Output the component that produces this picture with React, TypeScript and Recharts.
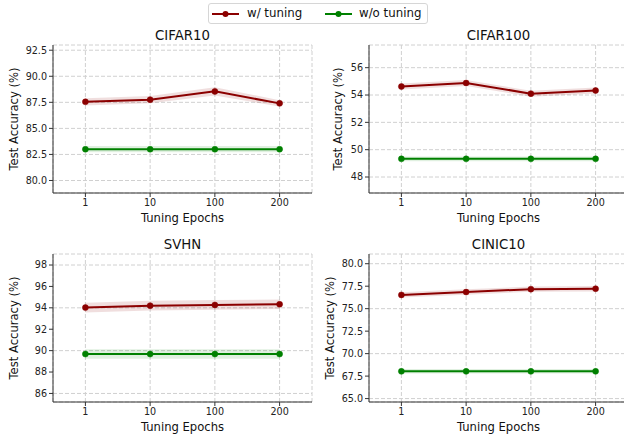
import React from 'react';
import { ComposedChart, XAxis, YAxis, CartesianGrid, Line, Area } from 'recharts';

const epochs = ['1', '10', '100', '200'];

const cifar10With = [87.55, 87.75, 88.55, 87.4];
const cifar10Without = [83.0, 83.0, 83.0, 83.0];
const cifar10WithStd = [0.35, 0.35, 0.4, 0.3];
const cifar10WithoutStd = [0.3, 0.3, 0.3, 0.3];

const cifar100With = [54.62, 54.88, 54.1, 54.33];
const cifar100Without = [49.33, 49.33, 49.33, 49.33];
const cifar100WithStd = [0.22, 0.22, 0.22, 0.22];
const cifar100WithoutStd = [0.18, 0.18, 0.18, 0.18];

const svhnWith = [94.02, 94.2, 94.27, 94.33];
const svhnWithout = [89.68, 89.68, 89.68, 89.68];
const svhnWithStd = [0.45, 0.45, 0.45, 0.45];
const svhnWithoutStd = [0.45, 0.45, 0.45, 0.45];

const cinic10With = [76.53, 76.85, 77.17, 77.22];
const cinic10Without = [68.03, 68.03, 68.03, 68.03];
const cinic10WithStd = [0.3, 0.3, 0.3, 0.3];
const cinic10WithoutStd = [0.25, 0.25, 0.25, 0.25];

const cifar10Ticks = [80.0, 82.5, 85.0, 87.5, 90.0, 92.5];
const cifar100Ticks = [48, 50, 52, 54, 56];
const svhnTicks = [86, 88, 90, 92, 94, 96, 98];
const cinic10Ticks = [65.0, 67.5, 70.0, 72.5, 75.0, 77.5, 80.0];

const RED = '#8b0000';
const GREEN = '#008000';
const SPINE = '#333';
const FONT = '"DejaVu Sans", sans-serif';

const W = 322;
const H = 213;

interface IPanelProps {
  title: string;
  left: number;
  top: number;
  withV: number[];
  withoutV: number[];
  withStd: number[];
  withoutStd: number[];
  domain: [number, number];
  ticks: number[];
  digits: number;
  yLabelX: number;
}

const Panel: React.FC<IPanelProps> = (props) => {
  const { title, left, top, withV, withoutV, withStd, withoutStd, domain, ticks, digits, yLabelX } = props;
  const data = epochs.map((e, i) => ({
    epoch: e,
    w: withV[i],
    wo: withoutV[i],
    wBand: [withV[i] - withStd[i], withV[i] + withStd[i]],
    woBand: [withoutV[i] - withoutStd[i], withoutV[i] + withoutStd[i]],
  }));
  const tickStyle = { fontSize: 9.6, fill: '#222', fontFamily: FONT };

  return (
    <div style={{ position: 'absolute', left, top, width: W, height: H }}>
      <div
        style={{
          position: 'absolute',
          left: 53,
          width: 259,
          top: 27,
          lineHeight: '18px',
          fontSize: 13.3,
          fontWeight: 400,
          textAlign: 'center',
          color: '#111',
        }}
      >
        {title}
      </div>
      <ComposedChart width={W} height={H} data={data} margin={{ top: 45, right: 10, bottom: 0, left: 0 }}>
        <CartesianGrid stroke="#d0d0d0" strokeDasharray="4 2" />
        <XAxis
          dataKey="epoch"
          height={20}
          padding={{ left: 32.4, right: 32.4 }}
          tickSize={4}
          tickMargin={2}
          tick={tickStyle}
          stroke={SPINE}
          axisLine={{ stroke: SPINE }}
          tickLine={{ stroke: SPINE }}
        />
        <XAxis
          xAxisId="top"
          orientation="top"
          dataKey="epoch"
          height={0}
          padding={{ left: 32.4, right: 32.4 }}
          tick={false}
          tickLine={false}
          axisLine={{ stroke: SPINE }}
        />
        <YAxis
          type="number"
          width={53}
          domain={domain}
          ticks={ticks}
          allowDataOverflow
          tickSize={4}
          tickMargin={2}
          tick={tickStyle}
          tickFormatter={(v: number) => v.toFixed(digits)}
          axisLine={{ stroke: SPINE }}
          tickLine={{ stroke: SPINE }}
        />
        <YAxis
          yAxisId="right"
          orientation="right"
          type="number"
          width={0}
          domain={domain}
          tick={false}
          tickLine={false}
          axisLine={{ stroke: SPINE }}
        />
        <Area
          type="linear"
          dataKey="wBand"
          stroke="none"
          fill={RED}
          fillOpacity={0.13}
          dot={false}
          activeDot={false}
          isAnimationActive={false}
        />
        <Line
          type="linear"
          dataKey="w"
          stroke={RED}
          strokeWidth={2}
          dot={{ r: 3, fill: RED, stroke: RED, strokeWidth: 0.5 }}
          activeDot={false}
          isAnimationActive={false}
        />
        <Area
          type="linear"
          dataKey="woBand"
          stroke="none"
          fill={GREEN}
          fillOpacity={0.12}
          dot={false}
          activeDot={false}
          isAnimationActive={false}
        />
        <Line
          type="linear"
          dataKey="wo"
          stroke={GREEN}
          strokeWidth={2}
          dot={{ r: 3, fill: GREEN, stroke: GREEN, strokeWidth: 0.5 }}
          activeDot={false}
          isAnimationActive={false}
        />
      </ComposedChart>
      <div
        style={{
          position: 'absolute',
          left: 53,
          width: 259,
          top: 210,
          lineHeight: '17px',
          fontSize: 11.6,
          textAlign: 'center',
          color: '#111',
        }}
      >
        Tuning Epochs
      </div>
      <div
        style={{
          position: 'absolute',
          left: yLabelX,
          top: 119,
          transform: 'translate(-50%, -50%) rotate(-90deg)',
          whiteSpace: 'nowrap',
          fontSize: 11.6,
          lineHeight: '14px',
          color: '#111',
        }}
      >
        Test Accuracy (%)
      </div>
    </div>
  );
};

const LegendKey: React.FC<{ color: string }> = ({ color }) => (
  <svg width={27} height={8} style={{ display: 'block' }}>
    <line x1={0} y1={4} x2={27} y2={4} stroke={color} strokeWidth={2} />
    <circle cx={13.5} cy={4} r={3} fill={color} />
  </svg>
);

export default function App() {
  return (
    <div
      style={{
        position: 'absolute',
        left: 0,
        top: 0,
        width: 624,
        height: 438,
        overflow: 'hidden',
        background: '#fff',
        fontFamily: FONT,
      }}
    >
      <div
        style={{
          position: 'absolute',
          left: 208,
          top: 3,
          width: 220,
          height: 21,
          boxSizing: 'border-box',
          border: '1px solid #d6d6d6',
          borderRadius: 3,
          fontSize: 11.8,
          color: '#111',
        }}
      >
        <div style={{ position: 'absolute', left: 3, top: 6 }}>
          <LegendKey color={RED} />
        </div>
        <div style={{ position: 'absolute', left: 38, top: 1, lineHeight: '17px' }}>w/ tuning</div>
        <div style={{ position: 'absolute', left: 116, top: 6 }}>
          <LegendKey color={GREEN} />
        </div>
        <div style={{ position: 'absolute', left: 150, top: 1, lineHeight: '17px' }}>w/o tuning</div>
      </div>

      <Panel
        title="CIFAR10"
        left={0}
        top={0}
        withV={cifar10With}
        withoutV={cifar10Without}
        withStd={cifar10WithStd}
        withoutStd={cifar10WithoutStd}
        domain={[78.8, 93.0]}
        ticks={cifar10Ticks}
        digits={1}
        yLabelX={14}
      />
      <Panel
        title="CIFAR100"
        left={316}
        top={0}
        withV={cifar100With}
        withoutV={cifar100Without}
        withStd={cifar100WithStd}
        withoutStd={cifar100WithoutStd}
        domain={[46.83, 57.66]}
        ticks={cifar100Ticks}
        digits={0}
        yLabelX={22}
      />
      <Panel
        title="SVHN"
        left={0}
        top={209}
        withV={svhnWith}
        withoutV={svhnWithout}
        withStd={svhnWithStd}
        withoutStd={svhnWithoutStd}
        domain={[85.2, 99.03]}
        ticks={svhnTicks}
        digits={0}
        yLabelX={14}
      />
      <Panel
        title="CINIC10"
        left={316}
        top={209}
        withV={cinic10With}
        withoutV={cinic10Without}
        withStd={cinic10WithStd}
        withoutStd={cinic10WithoutStd}
        domain={[64.62, 81.08]}
        ticks={cinic10Ticks}
        digits={1}
        yLabelX={14}
      />
    </div>
  );
}
